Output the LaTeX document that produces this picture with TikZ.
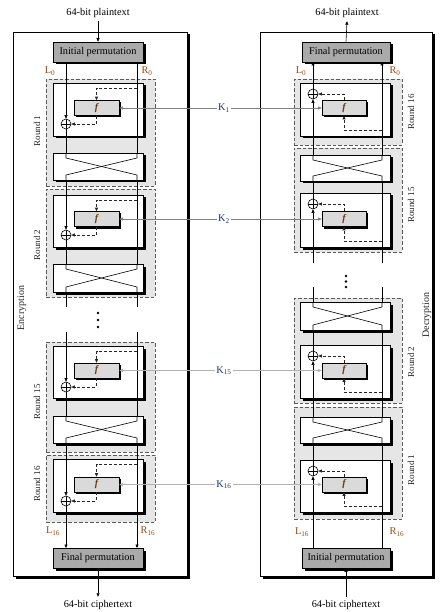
\documentclass[tikz,border=0pt]{standalone}
\usepackage{fontspec}
\setmainfont{Liberation Serif}
\usetikzlibrary{arrows.meta,shadows,fit}
\definecolor{lrcol}{RGB}{150,75,15}
\definecolor{kcol}{RGB}{30,50,115}
\definecolor{fcol}{RGB}{110,60,10}
\definecolor{permfill}{RGB}{170,170,170}
\definecolor{ffill}{RGB}{218,218,218}
\definecolor{regfill}{RGB}{230,230,230}
\definecolor{regline}{RGB}{90,90,90}
% left f-block: id, container top, container bottom, f y, xor y
\newcommand{\LFn}[5]{%
  \node[cbox, fit={(53,#2)(143,#3)}] (c#1) {};
  \node[fbox] (f#1) at (96.5,#4) {f};
  \node[xor] (x#1) at (66,#5) {};
  \coordinate (d#1) at (137,#2+5);
  \draw[dsh,->] (d#1) -| (f#1.north);
  \draw[dsh,->] (f#1.south) |- (x#1.east);
}
% right f-block
\newcommand{\RFn}[5]{%
  \node[cbox, fit={(300,#2)(390,#3)}] (c#1) {};
  \node[fbox, minimum width=44pt] (f#1) at (344,#4) {f};
  \node[xor] (x#1) at (313,#5) {};
  \coordinate (d#1) at (382,#3-6);
  \draw[dsh,->] (d#1) -| (f#1.south);
  \draw[dsh,->] (f#1.north) |- (x#1.east);
}
% swap boxes
\newcommand{\LSw}[3]{%
  \node[cbox, fit={(53,#2)(143,#3)}] (s#1) {};
  \draw[wire] (66,#2) -- (66,#2+5) -- (137,#3-5) -- (137,#3);
  \draw[wire] (137,#2) -- (137,#2+5) -- (66,#3-5) -- (66,#3);
}
\newcommand{\RSw}[3]{%
  \node[cbox, fit={(300,#2)(390,#3)}] (s#1) {};
  \draw[wire] (313,#2) -- (313,#2+5) -- (382,#3-5) -- (382,#3);
  \draw[wire] (382,#2) -- (382,#2+5) -- (313,#3-5) -- (313,#3);
}
\begin{document}
\begin{tikzpicture}[x=1pt,y=-1pt,
  >={Triangle[length=3.5pt,width=3pt]},
  every node/.style={font=\fontsize{10.3}{12}\selectfont},
  shad/.style={drop shadow={shadow xshift=2.5pt,shadow yshift=-2.5pt,opacity=1,fill=black}},
  panel/.style={draw=black,fill=white,line width=0.6pt,inner sep=0pt,shad},
  region/.style={draw=regline,fill=regfill,dash pattern=on 3.5pt off 2pt,line width=0.8pt,inner sep=0pt},
  cbox/.style={draw=black,fill=white,line width=0.6pt,inner sep=0pt,shad},
  perm/.style={draw=black,fill=permfill,line width=0.6pt,minimum width=90pt,minimum height=20pt,inner sep=0pt,shad},
  fbox/.style={draw=black,fill=ffill,line width=0.6pt,minimum width=45pt,minimum height=15pt,inner sep=0pt,
    drop shadow={shadow xshift=2pt,shadow yshift=-2pt,opacity=1,fill=black},
    font=\fontsize{10}{11}\selectfont\itshape\bfseries\color{fcol}},
  xor/.style={draw=black,circle,minimum size=10pt,inner sep=0pt,fill=white,line width=0.6pt,
    path picture={\draw[line width=0.6pt] (path picture bounding box.north)--(path picture bounding box.south)
      (path picture bounding box.west)--(path picture bounding box.east);}},
  wire/.style={line width=0.6pt,draw=black},
  dsh/.style={line width=0.8pt,draw=black!85,dash pattern=on 3pt off 2pt},
  rlab/.style={rotate=90,text=black!85,font=\fontsize{9}{10}\selectfont},
  ttl/.style={rotate=90,text=black!85,font=\fontsize{10}{11}\selectfont},
  lr/.style={text=lrcol},
  klab/.style={text=kcol,inner sep=1.5pt},
  kline/.style={line width=0.7pt,draw=gray,->},
  klineb/.style={line width=0.8pt,draw=gray!60,->},
  bigdot/.style={circle,fill=black,inner sep=0pt,minimum size=2.8pt}
]
\useasboundingbox (0,0) rectangle (444,612);

% panels
\node[panel, fit={(13,32)(187,576)}] (pL) {};
\node[panel, fit={(260,32)(432,576)}] (pR) {};

% round regions
\node[region, fit={(46,79)(155,186)}] (rL1) {};
\node[region, fit={(46,189)(155,297)}] (rL2) {};
\node[region, fit={(46,342)(155,452)}] (rL15) {};
\node[region, fit={(46,455)(155,522)}] (rL16) {};
\node[region, fit={(294,79)(402,145)}] (rR16) {};
\node[region, fit={(294,148)(402,252)}] (rR15) {};
\node[region, fit={(294,298)(402,403)}] (rR2) {};
\node[region, fit={(294,407)(402,519)}] (rR1) {};

% permutation boxes
\node[perm] (ipL) at (98,52) {Initial permutation};
\node[perm] (fpL) at (98,558) {Final permutation};
\node[perm, minimum width=88pt] (fpR) at (346,52) {Final permutation};
\node[perm, minimum width=88pt] (ipR) at (346,558) {Initial permutation};

% left rounds
\LFn{L1}{83}{136}{108}{124}
\LSw{L1}{153}{180}
\LFn{L2}{195}{247}{219}{235}
\LSw{L2}{264}{292}
\LFn{L15}{346}{398}{370.5}{387}
\LSw{L15}{416}{443}
\LFn{L16}{459}{512}{484.5}{501}

% right rounds
\RFn{R16}{83}{136}{108}{94}
\RSw{R15}{155}{181}
\RFn{R15}{193}{247}{219}{204}
\RSw{R2}{302}{330}
\RFn{R2}{345}{398}{370.5}{356}
\RSw{R1}{417}{443}
\RFn{R1}{460}{512}{484.5}{471}

% left wires
\draw[wire,->] (66,62) -- (xL1.north);
\draw[wire] (137,62) -- (137,153);
\draw[wire] (xL1.south) -- (66,153);
\draw[wire,->] (66,180) -- (xL2.north);
\draw[wire] (137,180) -- (137,264);
\draw[wire] (xL2.south) -- (66,264);
\draw[wire] (66,292) -- (66,307);
\draw[wire] (137,292) -- (137,307);
\draw[wire,->] (66,332) -- (xL15.north);
\draw[wire] (137,332) -- (137,416);
\draw[wire] (xL15.south) -- (66,416);
\draw[wire,->] (66,443) -- (xL16.north);
\draw[wire,->] (137,443) -- (137,548);
\draw[wire,->] (xL16.south) -- (66,548);

% right wires
\draw[wire,->] (313,548) -- (xR1.south);
\draw[wire] (382,548) -- (382,443);
\draw[wire] (xR1.north) -- (313,443);
\draw[wire,->] (313,417) -- (xR2.south);
\draw[wire] (382,417) -- (382,330);
\draw[wire] (xR2.north) -- (313,330);
\draw[wire] (313,302) -- (313,287);
\draw[wire] (382,302) -- (382,287);
\draw[wire,->] (313,263) -- (xR15.south);
\draw[wire] (382,263) -- (382,181);
\draw[wire] (xR15.north) -- (313,181);
\draw[wire,->] (313,155) -- (xR16.south);
\draw[wire,->] (382,155) -- (382,62);
\draw[wire,->] (xR16.north) -- (313,62);

% dots
\node[bigdot] (dl1) at (98,313) {};
\node[bigdot] (dl2) at (98,320) {};
\node[bigdot] (dl3) at (98,327) {};
\node[bigdot] (dr1) at (346,276) {};
\node[bigdot] (dr2) at (346,281.5) {};
\node[bigdot] (dr3) at (346,287) {};

% plaintext / ciphertext
\node (ptL) at (98,13) {64-bit plaintext};
\draw[wire,->] (ptL.south) -- (ipL.north);
\node (ctL) at (98,605) {64-bit ciphertext};
\draw[wire,->] (fpL.south) -- (ctL.north);
\node (ptR) at (347,13) {64-bit plaintext};
\draw[wire,->] (fpR.north) -- (ptR.south);
\node (ctR) at (346,605) {64-bit ciphertext};
\draw[wire,->] (ctR.north) -- (ipR.south);

% L/R labels
\node[lr] (l0L) at (50,71) {L\textsubscript{0}};
\node[lr] (r0L) at (147,71) {R\textsubscript{0}};
\node[lr] (l16L) at (53,531) {L\textsubscript{16}};
\node[lr] (r16L) at (148,531) {R\textsubscript{16}};
\node[lr] (l0R) at (301,71) {L\textsubscript{0}};
\node[lr] (r0R) at (395,71) {R\textsubscript{0}};
\node[lr] (l16R) at (302,532) {L\textsubscript{16}};
\node[lr] (r16R) at (397,532) {R\textsubscript{16}};

% keys
\node[klab] (k1) at (224,108) {K\textsubscript{1}};
\node[klab] (k2) at (224,219) {K\textsubscript{2}};
\node[klab] (k15) at (224,370.5) {K\textsubscript{15}};
\node[klab] (k16) at (224,484.5) {K\textsubscript{16}};
\draw[kline] (k1.west) -- (fL1.east);
\draw[kline] (k1.east) -- (fR16.west);
\draw[kline] (k2.west) -- (fL2.east);
\draw[kline] (k2.east) -- (fR15.west);
\draw[klineb] (k15.west) -- (fL15.east);
\draw[klineb] (k15.east) -- (fR2.west);
\draw[klineb] (k16.west) -- (fL16.east);
\draw[klineb] (k16.east) -- (fR1.west);

% round labels
\node[rlab] (tl1) at (37,131) {Round 1};
\node[rlab] (tl2) at (37,245) {Round 2};
\node[rlab] (tl15) at (37,402) {Round 15};
\node[rlab] (tl16) at (37,484) {Round 16};
\node[rlab] (tr16) at (411,112) {Round 16};
\node[rlab] (tr15) at (411,205) {Round 15};
\node[rlab] (tr2) at (411,362) {Round 2};
\node[rlab] (tr1) at (411,470) {Round 1};
\node[ttl] (enc) at (22,308) {Encryption};
\node[ttl] (dec) at (427,315) {Decryption};
\end{tikzpicture}
\end{document}
